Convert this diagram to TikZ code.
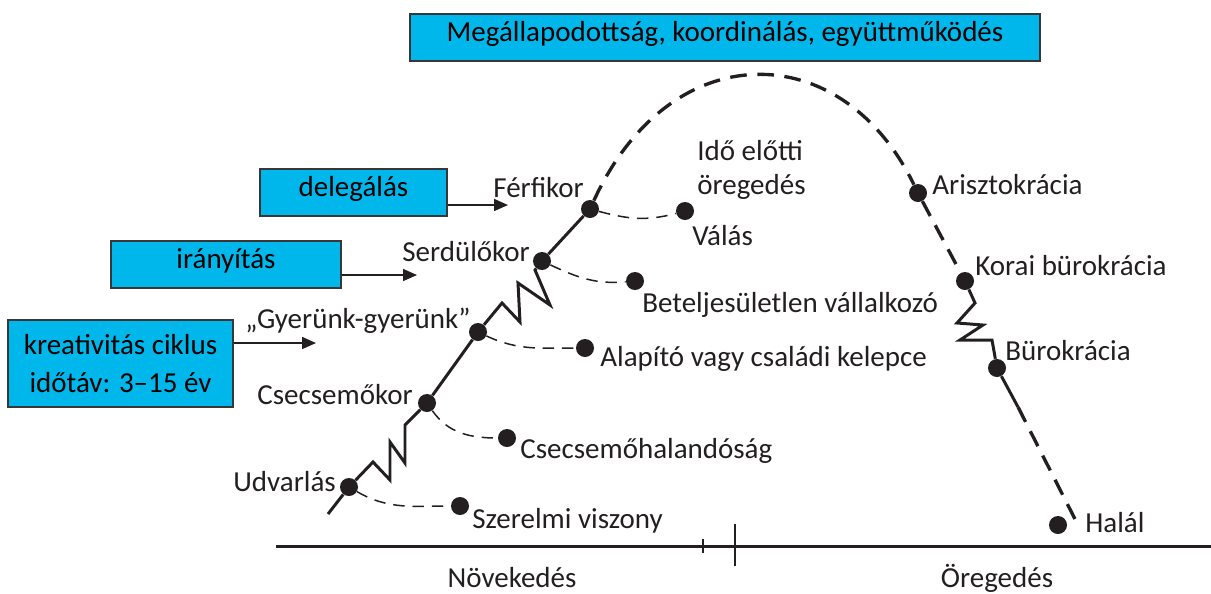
\documentclass[tikz,border=0pt]{standalone}
\usepackage{fontspec}
\setmainfont{Carlito}
\usetikzlibrary{arrows.meta, positioning}
\definecolor{cCyan}{RGB}{0,183,235}
\definecolor{cFrame}{RGB}{55,55,55}
\definecolor{cInk}{RGB}{35,31,32}
\tikzset{
	phasebox/.style={rectangle, draw=cFrame, line width=0.9pt, fill=cCyan, minimum height=0.94cm, align=center, inner sep=0pt, text height=0.66em, text depth=0.22em},
	phasebig/.style={rectangle, draw=cFrame, line width=0.9pt, fill=cCyan, minimum height=1.74cm, align=center, inner sep=0pt},
	stage/.style={circle, fill=cInk, minimum size=0.36cm, inner sep=0pt},
	tag/.style={anchor=base west, inner sep=0pt, text=cInk},
	life/.style={line width=1.7pt, cInk, line join=miter},
	lifedash/.style={line width=1.9pt, cInk, dash pattern=on 9.5pt off 6pt},
	trap/.style={line width=0.85pt, cInk, dash pattern=on 6.5pt off 4.5pt},
	pointer/.style={-{Triangle[length=2.8mm, width=2.4mm]}, line width=0.85pt, cInk},
	axisline/.style={line width=1.7pt, cInk},
}

\begin{document}
\begin{tikzpicture}[x=0.02cm, y=-0.02cm, font=\fontsize{16.5}{19.3}\selectfont]
	\useasboundingbox (0,0) rectangle (1211,593);
	% boxes
	\node[phasebox, minimum width=12.6cm] (agree) at (725,37.5) {Megállapodottság, koordinálás, együttműködés};
	\node[phasebox, minimum width=3.74cm] (deleg) at (353.5,192.5) {delegálás};
	\node[phasebox, minimum width=4.6cm] (direct) at (226,264.5) {irányítás};
	\node[phasebig, minimum width=4.5cm] (creat) at (120.5,363.5) {kreativitás ciklus\\[2.3pt]időtáv: 3–15 év};
	% box arrows
	\coordinate (delegtip) at (508,205);
	\coordinate (directtip) at (417,275);
	\coordinate (creattip) at (316,343);
	\draw[pointer] (deleg.east |- delegtip) -- (delegtip);
	\draw[pointer] (direct.east |- directtip) -- (directtip);
	\draw[pointer] (creat.east |- creattip) -- (creattip);
	% axis
	\coordinate (axisL) at (276,546);
	\coordinate (axisR) at (1211,546);
	\draw[axisline] (axisL) -- (axisR);
	\draw[line width=0.8pt, cInk] (703,539) -- (703,553);
	\draw[line width=1.2pt, cInk] (735,524) -- (735,566);
	\node[tag, anchor=base] at (512,587) {Növekedés};
	\node[tag, anchor=base] at (997,587) {Öregedés};
	% stages on the curve
	\coordinate (birth) at (328,514);
	\node[stage] (udv) at (349,487) {};
	\node[stage] (csec) at (427,403) {};
	\node[stage] (gyer) at (478,332) {};
	\node[stage] (serd) at (542,261) {};
	\node[stage] (ferf) at (590,209) {};
	\node[stage] (ariszt) at (918,193) {};
	\node[stage] (korai) at (965,281) {};
	\node[stage] (buro) at (997,368) {};
	\node[stage] (halal) at (1058,525) {};
	\coordinate (lateend) at (1018,407);
	\coordinate (deathend) at (1077,523);
	% traps
	\node[stage] (szer) at (460,506) {};
	\node[stage] (csha) at (507,438) {};
	\node[stage] (alap) at (585,348) {};
	\node[stage] (betel) at (635,281) {};
	\node[stage] (valas) at (685,211) {};
	% growth side
	\draw[life] (birth) -- (udv) -- (373,462) -- (390,480) -- (390,442) -- (405,463) -- (405,425) -- (csec) -- (gyer)
		-- (502,303) -- (520,322) -- (518,283) -- (550,305) -- (535,270) -- (serd) -- (ferf);
	% prime and aging side
	\draw[lifedash] (ferf) .. controls (670,35) and (841,35) .. (ariszt);
	\draw[lifedash] (ariszt) -- (korai);
	\draw[life] (korai) -- (975,303) -- (957,323) -- (983,325) -- (960,340) -- (992,340) -- (buro) -- (lateend);
	\draw[lifedash] (lateend) -- (deathend);
	% dashed side paths
	\draw[trap] (udv) to[out=-30, in=180] (szer);
	\draw[trap] (csec) to[out=-55, in=180] (csha);
	\draw[trap] (gyer) to[out=-25, in=180] (alap);
	\draw[trap] (serd) to[out=-25, in=185] (betel);
	\draw[trap] (ferf) to[out=-15, in=195] (valas);
	% labels
	\node[tag] at (493,197) {Férfikor};
	\node[tag, align=left] at (697,194) {Idő előtti\\öregedés};
	\node[tag] at (692,245) {Válás};
	\node[tag] at (402,261) {Serdülőkor};
	\node[tag] at (642,312) {Beteljesületlen vállalkozó};
	\node[tag] at (245,328) {„Gyerünk-gyerünk”};
	\node[tag] at (600,366) {Alapító vagy családi kelepce};
	\node[tag] at (257,404) {Csecsemőkor};
	\node[tag] at (520,458) {Csecsemőhalandóság};
	\node[tag] at (233,491) {Udvarlás};
	\node[tag] at (472,528) {Szerelmi viszony};
	\node[tag] at (932,194) {Arisztokrácia};
	\node[tag] at (975,275) {Korai bürokrácia};
	\node[tag] at (1005,360) {Bürokrácia};
	\node[tag] at (1085,532) {Halál};
\end{tikzpicture}
\end{document}
